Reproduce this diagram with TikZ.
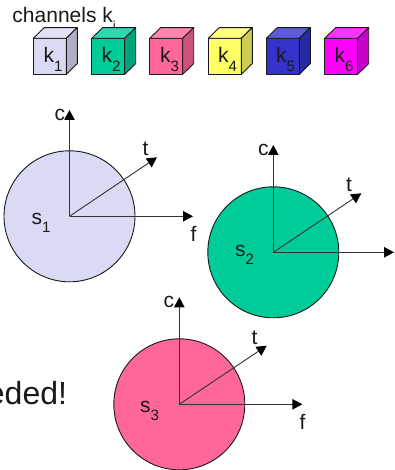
\documentclass[tikz,border=0pt]{standalone}
\usepackage{fontspec}
\setmainfont{Liberation Sans}
\usetikzlibrary{arrows.meta}
\newcommand{\lbl}[2]{#1\raisebox{-0.42em}{\fontsize{15}{15}\selectfont #2}}
\tikzset{
  x=1pt,y=-1pt,
  every node/.style={font=\fontsize{21}{25}\selectfont,text=black!90,inner sep=0pt,outer sep=0pt},
  edgeline/.style={draw=black!90,line width=0.9pt,line join=round},
  cubeface/.style={edgeline,minimum width=33pt,minimum height=36pt,anchor=north west},
  disc/.style={circle,draw=black!90,line width=0.9pt,minimum size=131pt,anchor=center},
  axis/.style={draw=black!80,line width=0.9pt,-{Triangle[length=10pt,width=10.5pt,black]}},
}
\newcommand{\cube}[5]{%
  \node[cubeface,fill=#3] (#1) at (#2,38.3) {};
  \draw[edgeline,fill=#4] (#1.north west) -- ++(11,-10.7) -- ++(33,0) -- (#1.north east) -- cycle;
  \draw[edgeline,fill=#5] (#1.north east) -- ++(11,-10.7) -- ++(0,36) -- (#1.south east) -- cycle;
}
\newcommand{\sphere}[7]{%
  \node[disc,fill=#4] (#1) at (#2,#3) {};
  \coordinate (#1c) at (#2,#5);
  \coordinate (#1f) at (#6,#3);
  \coordinate (#1t) at #7;
  \draw[axis] (#1.center) -- (#1c);
  \draw[axis] (#1.center) -- (#1f);
  \draw[axis] (#1.center) -- (#1t);
}
\definecolor{cA}{HTML}{DADAF5}
\definecolor{cB}{HTML}{00CC99}
\definecolor{cC}{HTML}{FF6699}
\definecolor{cD}{HTML}{FFFF66}
\definecolor{cE}{HTML}{3333CC}
\definecolor{cF}{HTML}{FF00FF}
\begin{document}
\begin{tikzpicture}
\useasboundingbox (0,0) rectangle (394,470);
\node[anchor=base west] (title) at (12.5,23) {channels k\raisebox{-0.35em}{\fontsize{13}{13}\selectfont i}};
\cube{ka}{33.3}{cA}{cA!80!white}{cA!80!black}
\cube{kb}{91.7}{cB}{cB!80!white}{cB!80!black}
\cube{kc}{149.7}{cC}{cC!80!white}{cC!80!black}
\cube{kd}{208.3}{cD}{cD!80!white}{cD!80!black}
\cube{ke}{266.3}{cE}{cE!80!white}{cE!80!black}
\cube{kf}{324.7}{cF}{cF!80!white}{cF!80!black}
\node[anchor=base west] (la) at (43.5,63) {\lbl{k}{1}};
\node[anchor=base west] (lb) at (101.5,63) {\lbl{k}{2}};
\node[anchor=base west] (lc) at (160,63) {\lbl{k}{3}};
\node[anchor=base west] (ld) at (218,63) {\lbl{k}{4}};
\node[anchor=base west] (le) at (276,63) {\lbl{k}{5}};
\node[anchor=base west] (lf) at (334.5,63) {\lbl{k}{6}};
\sphere{sa}{69.5}{216.3}{cA}{110}{193}{(157,157.3)}
\sphere{sb}{273.3}{252.3}{cB}{145}{394}{(361.3,193.3)}
\sphere{sc}{179.3}{404.3}{cC}{297.3}{302.3}{(266.7,345.7)}
\node[anchor=base west] (ca) at (54.5,120.5) {c};
\node[anchor=base] (ta) at (145.5,155.5) {t};
\node[anchor=base] (fa) at (193.5,241) {f};
\node[anchor=base west] (na) at (31.5,224) {\lbl{s}{1}};
\node[anchor=base west] (cb) at (258,156) {c};
\node[anchor=base] (tb) at (349,192) {t};
\node[anchor=base west] (nb) at (235,256) {\lbl{s}{2}};
\node[anchor=base west] (cc) at (163.5,307.5) {c};
\node[anchor=base] (tc) at (254.5,344) {t};
\node[anchor=base] (fc) at (302.5,429) {f};
\node[anchor=base west] (nc) at (140,412) {\lbl{s}{3}};
\node[anchor=base east,font=\fontsize{32}{38}\selectfont] (msg) at (67,404) {eded!};
\end{tikzpicture}
\end{document}
